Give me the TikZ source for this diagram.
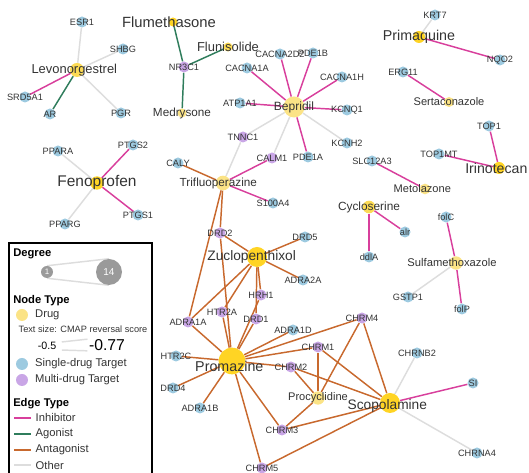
\documentclass[tikz,border=0pt]{standalone}
\usepackage{fontspec}
\setmainfont{Liberation Sans}
\usepackage{xcolor}
\usetikzlibrary{positioning}
\pgfdeclarelayer{bg}
\pgfsetlayers{bg,main}
\definecolor{tblue}{HTML}{9DCAE0}
\definecolor{mpurp}{HTML}{C9A6E6}
\definecolor{dhi}{HTML}{FFD424}
\definecolor{dmid}{HTML}{FCDB55}
\definecolor{dlo}{HTML}{FBE386}
\definecolor{cinh}{HTML}{D83F9C}
\definecolor{cago}{HTML}{2F7D5C}
\definecolor{cant}{HTML}{C8692E}
\definecolor{coth}{HTML}{DDDDDD}
\definecolor{txt}{HTML}{333333}
\definecolor{dgray}{HTML}{9A9A9A}

\begin{document}
\begin{tikzpicture}[x=0.75pt, y=-0.75pt,
  tlab/.style={text=txt, inner sep=0pt, font=\fontsize{6.9}{7}\selectfont},
  dlab/.style={text=txt, inner sep=0pt, font=\fontsize{#1}{#1}\selectfont},
  tgt/.style={circle, inner sep=0pt, minimum size=8.25pt, fill=tblue, label={[tlab]center:#1}},
  mtgt/.style={tgt=#1, fill=mpurp},
  drug/.style={circle, inner sep=0pt, fill=dhi},
  inh/.style={draw=cinh, line width=1.1pt},
  ago/.style={draw=cago, line width=1.1pt},
  ant/.style={draw=cant, line width=1.1pt},
  oth/.style={draw=coth, line width=1.1pt},
  lleg/.style={text=txt, inner sep=0pt, anchor=west, font=\fontsize{8.4}{9}\selectfont},
  lhead/.style={text=black, inner sep=0pt, anchor=west, font=\bfseries\fontsize{8.4}{9}\selectfont}]
\useasboundingbox (0,0) rectangle (529,473);

% targets
\node[tgt=ESR1] (esr1) at (82,22) {};
\node[tgt=SHBG] (shbg) at (123,49) {};
\node[tgt=SRD5A1] (srd5a1) at (25,97) {};
\node[tgt=AR] (ar) at (50,114) {};
\node[tgt=PGR] (pgr) at (121,113) {};
\node[mtgt=NR3C1] (nr3c1) at (184,67) {};
\node[tgt=PDE1B] (pde1b) at (313,53) {};
\node[tgt=CACNA2D2] (cacna2d2) at (280,54) {};
\node[tgt=CACNA1A] (cacna1a) at (247,68) {};
\node[tgt=CACNA1H] (cacna1h) at (342,77) {};
\node[tgt=ATP1A1] (atp1a1) at (240,103) {};
\node[tgt=KCNQ1] (kcnq1) at (347,110) {};
\node[tgt=KCNH2] (kcnh2) at (347,143) {};
\node[tgt=PDE1A] (pde1a) at (308,157) {};
\node[mtgt=TNNC1] (tnnc1) at (243,137) {};
\node[mtgt=CALM1] (calm1) at (272,158) {};
\node[tgt=CALY] (caly) at (178,163) {};
\node[tgt=S100A4] (s100a4) at (273,203) {};
\node[mtgt=DRD2] (drd2) at (220,233) {};
\node[tgt=PPARA] (ppara) at (58,151) {};
\node[tgt=PTGS2] (ptgs2) at (133,145) {};
\node[tgt=PTGS1] (ptgs1) at (138,215) {};
\node[tgt=PPARG] (pparg) at (65,224) {};
\node[tgt=KRT7] (krt7) at (435,15) {};
\node[tgt=NQO2] (nqo2) at (500,60) {};
\node[tgt=ERG11] (erg11) at (403,72) {};
\node[tgt=TOP1] (top1) at (489,126) {};
\node[tgt=TOP1MT] (top1mt) at (439,154) {};
\node[tgt=SLC12A3] (slc12a3) at (372,161) {};
\node[tgt=alr] (alr) at (405,232) {};
\node[tgt=ddlA] (ddla) at (369,257) {};
\node[tgt=folC] (folc) at (446,217) {};
\node[tgt=GSTP1] (gstp1) at (408,297) {};
\node[tgt=folP] (folp) at (462,309) {};
\node[tgt=DRD5] (drd5) at (305,237) {};
\node[tgt=ADRA2A] (adra2a) at (303,280) {};
\node[mtgt=HRH1] (hrh1) at (261,295) {};
\node[mtgt=DRD1] (drd1) at (256,319) {};
\node[mtgt=HTR2A] (htr2a) at (222,312) {};
\node[mtgt=ADRA1A] (adra1a) at (188,322) {};
\node[tgt=ADRA1D] (adra1d) at (293,330) {};
\node[tgt=HTR2C] (htr2c) at (176,356) {};
\node[tgt=DRD4] (drd4) at (173,388) {};
\node[tgt=ADRA1B] (adra1b) at (200,408) {};
\node[mtgt=CHRM3] (chrm3) at (282,430) {};
\node[mtgt=CHRM5] (chrm5) at (262,468) {};
\node[mtgt=CHRM2] (chrm2) at (291,367) {};
\node[mtgt=CHRM1] (chrm1) at (318,347) {};
\node[mtgt=CHRM4] (chrm4) at (362,318) {};
\node[tgt=CHRNB2] (chrnb2) at (417,353) {};
\node[tgt=SI] (si) at (473,383) {};
\node[tgt=CHRNA4] (chrna4) at (477,453) {};

% drugs
\node[drug, fill=dmid, minimum size=10.5pt, label={[dlab=9.7, xshift=-2pt]center:Levonorgestrel}] (lev) at (77,70) {};
\node[drug, minimum size=6.75pt, label={[dlab=11.1, xshift=-3pt]center:Flumethasone}] (flum) at (173,22) {};
\node[drug, fill=dmid, minimum size=6.75pt, label={[dlab=9.7]center:Flunisolide}] (flun) at (228,47) {};
\node[drug, fill=dlo, minimum size=6.75pt, label={[dlab=8.8]center:Medrysone}] (medr) at (182,113) {};
\node[drug, fill=dlo, minimum size=15.75pt, label={[dlab=9]center:Bepridil}] (bep) at (294,107) {};
\node[drug, minimum size=9pt, label={[dlab=10.7]center:Primaquine}] (prim) at (419,37) {};
\node[drug, fill=dlo, minimum size=7.5pt, label={[dlab=8.3]center:Sertaconazole}] (sert) at (449,102) {};
\node[drug, minimum size=9pt, label={[dlab=10.6, xshift=-2pt]center:Irinotecan}] (irin) at (499,168) {};
\node[drug, minimum size=10pt, label={[dlab=11.6]center:Fenoprofen}] (feno) at (97,183) {};
\node[drug, fill=dlo, minimum size=11pt, label={[dlab=8.8, xshift=-3.5pt]center:Trifluoperazine}] (trif) at (223,183) {};
\node[drug, minimum size=15pt, label={[dlab=10.3, xshift=-4pt]center:Zuclopenthixol}] (zuc) at (257,257) {};
\node[drug, minimum size=20pt, label={[dlab=10.7, xshift=-2pt, yshift=-4pt]center:Promazine}] (prom) at (232,361) {};
\node[drug, minimum size=15pt, label={[dlab=10.3, xshift=-2pt, yshift=-2pt]center:Scopolamine}] (scop) at (390,403) {};
\node[drug, fill=dlo, minimum size=10pt, label={[dlab=8.3]center:Procyclidine}] (proc) at (318,398) {};
\node[drug, fill=dlo, minimum size=8pt, label={[dlab=8.3, xshift=-2pt]center:Metolazone}] (meto) at (425,189) {};
\node[drug, fill=dmid, minimum size=9.5pt, label={[dlab=8.9]center:Cycloserine}] (cyc) at (369,207) {};
\node[drug, fill=dlo, minimum size=10pt, label={[dlab=8.4, xshift=-3pt]center:Sulfamethoxazole}] (sulf) at (456,263) {};

\begin{pgfonlayer}{bg}
\foreach \t in {esr1,shbg,pgr} \draw[oth] (lev) -- (\t);
\draw[inh] (lev) -- (srd5a1);
\draw[ago] (lev) -- (ar);
\foreach \t in {flum,flun,medr} \draw[ago] (nr3c1) -- (\t);
\foreach \t in {cacna2d2,pde1b,cacna1a,cacna1h,atp1a1,kcnq1,pde1a} \draw[inh] (bep) -- (\t);
\foreach \t in {kcnh2,tnnc1,calm1} \draw[oth] (bep) -- (\t);
\foreach \t in {caly,drd2,adra1a} \draw[ant] (trif) -- (\t);
\foreach \t in {calm1,s100a4} \draw[inh] (trif) -- (\t);
\draw[oth] (trif) -- (tnnc1);
\foreach \t in {ppara,pparg} \draw[oth] (feno) -- (\t);
\foreach \t in {ptgs2,ptgs1} \draw[inh] (feno) -- (\t);
\draw[oth] (prim) -- (krt7);
\draw[inh] (prim) -- (nqo2);
\draw[inh] (sert) -- (erg11);
\foreach \t in {top1,top1mt} \draw[inh] (irin) -- (\t);
\draw[inh] (meto) -- (slc12a3);
\foreach \t in {alr,ddla} \draw[inh] (cyc) -- (\t);
\foreach \t in {folc,folp} \draw[inh] (sulf) -- (\t);
\draw[oth] (sulf) -- (gstp1);
\foreach \t in {drd2,drd5,adra2a,hrh1,drd1,htr2a,adra1a} \draw[ant] (zuc) -- (\t);
\foreach \t in {htr2c,drd4,adra1b,chrm3,chrm5,chrm2,chrm1,chrm4,adra1d,drd1,hrh1,htr2a,adra1a,drd2} \draw[ant] (prom) -- (\t);
\foreach \t in {chrm1,chrm2,chrm3,chrm4} \draw[ant] (proc) -- (\t);
\foreach \t in {chrm1,chrm2,chrm3,chrm4,chrm5} \draw[ant] (scop) -- (\t);
\foreach \t in {chrnb2,chrna4} \draw[oth] (scop) -- (\t);
\draw[inh] (scop) -- (si);
\end{pgfonlayer}

% legend
\draw[black, line width=0.8pt] (9,476) -- (9,243) -- (152,243) -- (152,476);
\node[lhead] (hdeg) at (13,254) {Degree};
\node[circle, fill=dgray, inner sep=0pt, minimum size=9pt, text=white, font=\fontsize{6}{6}\selectfont] (d1) at (47,272) {1};
\node[circle, fill=dgray, inner sep=0pt, minimum size=19.5pt, text=white, font=\fontsize{7.5}{8}\selectfont] (d14) at (109,272) {14};
\begin{pgfonlayer}{bg}
\draw[oth] (d1.north) -- (d14.north);
\draw[oth] (d1.south) -- (d14.south);
\end{pgfonlayer}
\node[lhead] (hnode) at (13,301) {Node Type};
\node[circle, fill=dlo, inner sep=0pt, minimum size=9pt] (sdrug) at (22,315) {};
\node[lleg, right=5pt of sdrug] (ldrug) {Drug};
\node[text=txt, inner sep=0pt, font=\fontsize{6.9}{7}\selectfont] (lcmap) at (83,329) {Text size: CMAP reversal score};
\node[text=black, inner sep=0pt, font=\fontsize{8}{8}\selectfont] (s05) at (47,346) {-0.5};
\node[text=black, inner sep=0pt, font=\fontsize{11.8}{12}\selectfont] (s077) at (107,345) {-0.77};
\draw[oth] ([xshift=4pt]s05.north east) -- ([xshift=-1pt]s077.north west);
\draw[oth] ([xshift=4pt]s05.south east) -- ([xshift=-1pt]s077.south west);
\node[circle, fill=tblue, inner sep=0pt, minimum size=9pt] (ssingle) at (22,364) {};
\node[lleg, right=5pt of ssingle] (lsingle) {Single-drug Target};
\node[circle, fill=mpurp, inner sep=0pt, minimum size=9pt] (smulti) at (22,380) {};
\node[lleg, right=5pt of smulti] (lmulti) {Multi-drug Target};
\node[lhead] (hedge) at (13,404) {Edge Type};
\coordinate (einh) at (14,418);
\coordinate (eago) at (14,434);
\coordinate (eant) at (14,450);
\coordinate (eoth) at (14,465);
\draw[inh] (einh) -- ++(17,0) node[lleg, right=3pt] (linh) {Inhibitor};
\draw[ago] (eago) -- ++(17,0) node[lleg, right=3pt] (lago) {Agonist};
\draw[ant] (eant) -- ++(17,0) node[lleg, right=3pt] (lant) {Antagonist};
\draw[oth] (eoth) -- ++(17,0) node[lleg, right=3pt] (loth) {Other};
\end{tikzpicture}
\end{document}
